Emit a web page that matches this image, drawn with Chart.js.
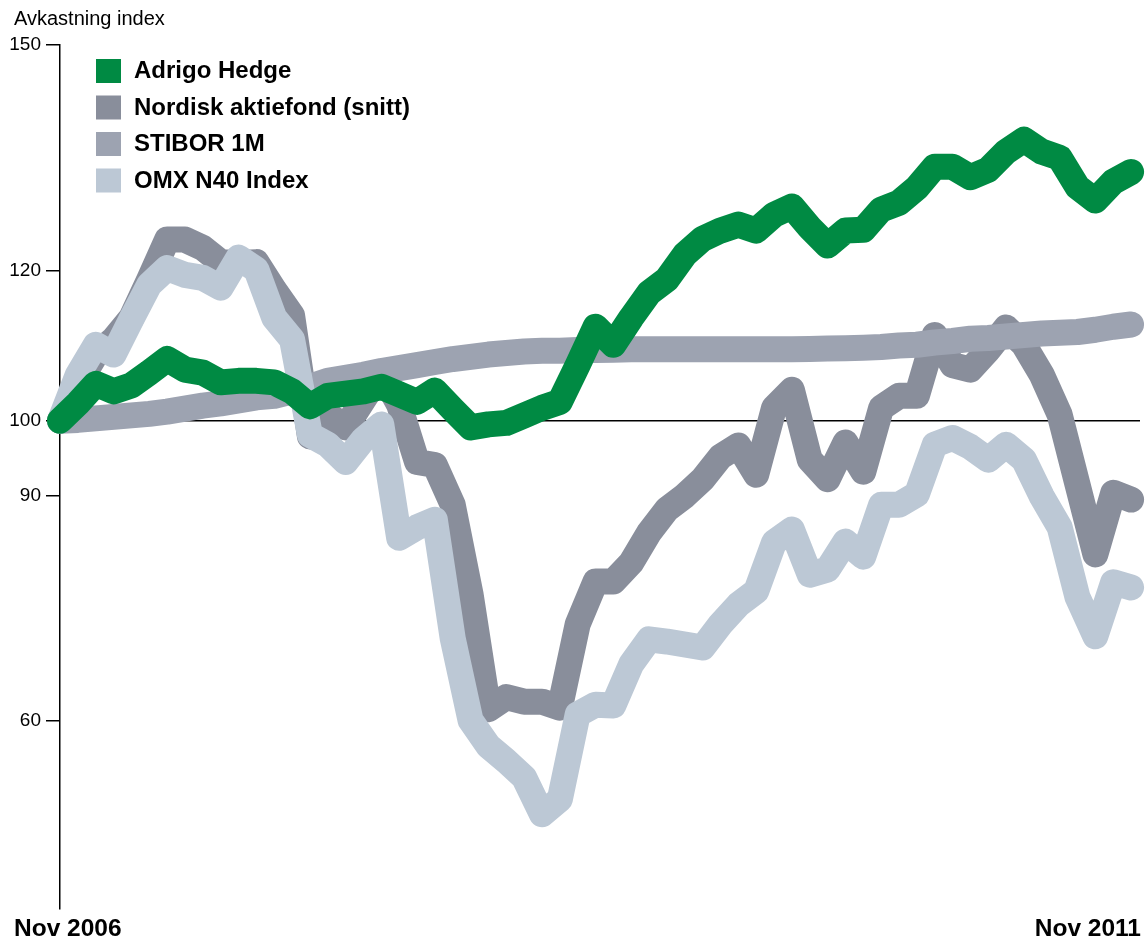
<!DOCTYPE html>
<html><head><meta charset="utf-8">
<script src="https://cdn.jsdelivr.net/npm/chart.js@4.4.1/dist/chart.umd.min.js"></script>
<style>html,body{margin:0;padding:0;background:#fff;}canvas{display:block;}</style>
</head><body>
<canvas id="c" width="1146" height="938"></canvas>
<script>
const months = ['Nov 2006','Dec 2006',
 'Jan 2007','Feb 2007','Mar 2007','Apr 2007','May 2007','Jun 2007','Jul 2007','Aug 2007','Sep 2007','Oct 2007','Nov 2007','Dec 2007',
 'Jan 2008','Feb 2008','Mar 2008','Apr 2008','May 2008','Jun 2008','Jul 2008','Aug 2008','Sep 2008','Oct 2008','Nov 2008','Dec 2008',
 'Jan 2009','Feb 2009','Mar 2009','Apr 2009','May 2009','Jun 2009','Jul 2009','Aug 2009','Sep 2009','Oct 2009','Nov 2009','Dec 2009',
 'Jan 2010','Feb 2010','Mar 2010','Apr 2010','May 2010','Jun 2010','Jul 2010','Aug 2010','Sep 2010','Oct 2010','Nov 2010','Dec 2010',
 'Jan 2011','Feb 2011','Mar 2011','Apr 2011','May 2011','Jun 2011','Jul 2011','Aug 2011','Sep 2011','Oct 2011','Nov 2011'];

const adrigoHedge = [100,102.3,104.9,103.9,104.7,106.4,108.2,106.8,106.4,105.1,105.3,105.3,105.1,103.9,101.9,103.3,103.6,103.9,104.5,103.5,102.5,104,101.5,99.1,99.5,99.7,100.7,101.7,102.5,107.4,112.5,110.1,113.7,117,118.8,122.1,124.2,125.3,126.1,125.3,127.4,128.5,125.7,123.3,125.3,125.4,128.1,129,131,133.8,133.8,132.4,133.4,135.8,137.4,135.8,135,131.1,129.3,131.8,133.1];
const nordiskAktiefond = [100,104.8,108.8,110.8,113.7,118.8,124.1,124.1,123,121.1,121,121.1,117.4,114,97.9,100.8,99.1,102.8,106.5,102.1,94.5,94.1,88.8,76.9,61.6,63.2,62.6,62.6,61.8,72.9,78.6,78.6,81.1,85.1,88.2,90,92.2,95.2,96.7,92.8,101.7,104.1,94.8,92.2,97.1,93.2,101.7,103.3,103.3,111.4,107.4,106.8,109.4,112.4,110.1,106.1,100.8,91.5,82.2,90.4,89.5];
const stibor1M = [100,100.1,100.3,100.5,100.7,100.9,101.2,101.6,102,102.3,102.7,103.1,103.3,103.9,104.5,105.3,105.7,106.1,106.6,107,107.4,107.8,108.2,108.5,108.8,109,109.2,109.3,109.3,109.4,109.4,109.45,109.5,109.5,109.5,109.5,109.5,109.5,109.5,109.5,109.5,109.5,109.55,109.6,109.65,109.7,109.8,110,110.1,110.4,110.6,110.9,111,111.2,111.4,111.6,111.7,111.8,112.1,112.5,112.8];
const omxN40 = [100,106.1,110.1,108.8,113.5,118.1,120.3,119.4,119,117.7,121.7,120.1,113.7,110.8,98.1,96.8,94.5,97.5,99.5,84.4,85.8,86.8,71,60.1,56.7,54.7,52.5,47.6,49.6,60.9,62.2,62.1,67.6,70.9,70.6,70.2,69.8,72.9,75.5,77.3,83.8,85.5,79.5,80.2,83.9,81.9,88.8,88.8,90.2,96.8,97.7,96.5,94.8,96.8,94.8,89.9,85.8,76.5,71.3,78.5,77.8];

const seriesLabels = ['Adrigo Hedge','Nordisk aktiefond (snitt)','STIBOR 1M','OMX N40 Index'];
const seriesColors = ['#008A43','#898E9B','#9DA3B1','#BCC8D5'];
const yTickValues = [60,90,100,120,150];
const xTickLabels = ['Nov 2006','Nov 2011'];
const yAxisTitle = 'Avkastning index';

const FONT = "'Liberation Sans', Arial, Helvetica, sans-serif";
const toXY = arr => arr.map((v,i)=>({x:i,y:v}));
const seriesData = [adrigoHedge, nordiskAktiefond, stibor1M, omxN40];
const drawOrder = [0,3,2,1]; // lower = on top

const datasets = seriesData.map((d,k)=>({
  label: seriesLabels[k],
  data: toXY(d),
  borderColor: seriesColors[k],
  backgroundColor: seriesColors[k],
  borderWidth: 26,
  borderJoinStyle: 'round',
  borderCapStyle: 'round',
  pointRadius: 0,
  pointHoverRadius: 0,
  fill: false,
  tension: 0,
  clip: false,
  order: drawOrder[k]
}));

const decor = {
  id: 'decor',
  afterDraw(chart){
    const ctx = chart.ctx;
    const area = chart.chartArea;
    ctx.save();
    ctx.fillStyle = '#000';
    ctx.textBaseline = 'alphabetic';
    ctx.font = "20px " + FONT;
    ctx.textAlign = 'left';
    ctx.fillText(yAxisTitle, 14, 25);
    ctx.font = "bold 24px " + FONT;
    chart.data.datasets.forEach((ds,k)=>{
      const top = 59 + k*36.5;
      ctx.fillStyle = ds.borderColor;
      ctx.fillRect(96, top, 25, 24);
      ctx.fillStyle = '#000';
      ctx.fillText(ds.label, 134, top + 19);
    });
    ctx.font = "bold 24.5px " + FONT;
    ctx.textAlign = 'left';
    ctx.fillText(xTickLabels[0], 14, 936);
    ctx.textAlign = 'right';
    ctx.fillText(xTickLabels[1], area.right + 1, 936);
    ctx.restore();
  }
};

new Chart(document.getElementById('c'), {
  type: 'line',
  data: { labels: months, datasets },
  options: {
    responsive: false,
    animation: false,
    events: [],
    layout: { padding: { top: 45, right: 6, bottom: 29, left: 0 } },
    plugins: { legend: { display: false }, tooltip: { enabled: false } },
    scales: {
      x: { type: 'linear', min: 0, max: 60.5, display: false },
      y: {
        type: 'linear', min: 35, max: 150,
        afterBuildTicks: s => { s.ticks = yTickValues.map(v=>({value:v})); },
        afterFit: s => { s.width = 60; },
        ticks: { color: '#000', padding: 5, font: { family: FONT, size: 19 }, callback: v => String(v) },
        grid: {
          drawOnChartArea: true,
          color: c => (c.tick && c.tick.value === 100) ? '#000' : 'rgba(0,0,0,0)',
          tickColor: '#000',
          tickLength: 14,
          lineWidth: 1.5
        },
        border: { display: true, color: '#000', width: 1.5 }
      }
    }
  },
  plugins: [decor]
});
</script>
</body></html>
